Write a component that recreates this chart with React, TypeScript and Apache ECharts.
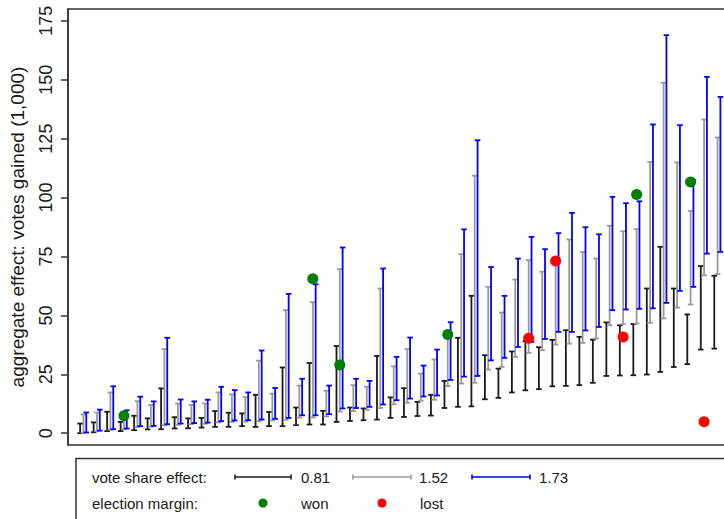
import React, { useEffect, useRef } from "react";
import * as echarts from "echarts";

// Districts ranked by the size of the lower-elasticity effect (1 = smallest).
const groups = Array.from({ length: 48 }, (_, k) => k + 1);

// Interval estimates of votes gained (thousands) for each vote-share elasticity.
const blackLow = [0.0, 0.4, 0.9, 0.9, 1.3, 1.6, 1.7, 2.0, 2.1, 2.4, 2.7, 2.7, 3.0, 2.7, 3.0, 3.0, 3.4, 3.7, 3.7, 4.8, 5.2, 5.5, 5.8, 6.5, 6.9, 7.3, 7.5, 10.7, 11.2, 11.4, 14.4, 15.0, 17.3, 18.2, 18.7, 19.9, 20.1, 20.4, 21.4, 24.3, 24.5, 24.6, 24.9, 26.0, 28.1, 29.3, 35.5, 35.9];
const blackHigh = [4.1, 4.6, 9.1, 4.8, 7.4, 6.3, 19.0, 6.8, 6.3, 6.5, 9.4, 8.7, 8.4, 16.3, 9.0, 27.9, 10.9, 29.8, 9.5, 37.0, 10.9, 10.5, 32.8, 15.2, 19.1, 13.3, 16.3, 22.2, 40.5, 58.3, 33.1, 27.4, 34.7, 39.0, 36.5, 39.6, 43.7, 40.9, 39.7, 47.0, 45.8, 46.3, 61.4, 79.1, 61.4, 50.4, 70.9, 66.8];
const grayLow = [0.2, 0.9, 1.5, 1.7, 2.6, 2.8, 3.3, 3.6, 3.8, 4.0, 4.6, 4.8, 4.9, 5.1, 5.4, 5.7, 6.6, 6.7, 7.1, 9.2, 9.4, 9.9, 10.7, 12.3, 12.9, 13.8, 14.2, 20.0, 21.1, 21.4, 27.0, 28.1, 32.4, 34.1, 35.2, 37.6, 38.0, 38.3, 40.2, 45.8, 46.3, 46.5, 46.8, 48.7, 53.3, 54.6, 67.0, 67.5];
const grayHigh = [8.0, 8.8, 17.3, 8.6, 13.6, 12.0, 35.7, 12.6, 12.0, 12.6, 17.3, 16.5, 15.3, 30.8, 16.8, 52.2, 20.2, 55.6, 18.0, 69.6, 20.4, 19.7, 61.4, 28.4, 35.7, 25.3, 31.3, 41.8, 76.0, 109.3, 62.1, 51.2, 65.2, 73.4, 68.5, 74.5, 82.2, 76.9, 74.1, 88.0, 85.7, 86.6, 115.1, 148.7, 114.9, 94.3, 133.1, 125.5];
const blueLow = [0.3, 1.1, 1.7, 2.0, 3.0, 3.1, 3.8, 4.1, 4.3, 4.5, 5.1, 5.4, 5.5, 5.8, 6.1, 6.5, 7.6, 7.6, 8.1, 10.5, 10.7, 11.2, 12.2, 14.0, 14.7, 15.6, 16.0, 22.6, 24.0, 24.3, 30.9, 32.0, 36.6, 38.8, 40.0, 43.0, 43.0, 43.6, 45.1, 52.2, 52.5, 52.8, 53.0, 55.3, 60.4, 62.1, 76.2, 76.9];
const blueHigh = [8.8, 10.0, 19.9, 9.7, 15.5, 13.5, 40.5, 14.3, 13.5, 14.2, 19.7, 18.3, 17.3, 35.1, 19.2, 59.1, 23.1, 63.2, 20.2, 78.8, 23.1, 22.2, 69.9, 32.4, 40.6, 28.7, 35.5, 47.1, 86.5, 124.3, 70.5, 58.3, 74.1, 83.3, 78.1, 84.9, 93.5, 87.4, 84.4, 100.3, 97.6, 98.4, 131.0, 168.9, 130.7, 107.4, 151.2, 142.7];

// Actual election margins (thousands of votes): [district rank, margin].
const wonMargins = [[4, 7.4], [18, 65.5], [20, 28.9], [28, 41.9], [42, 101.3], [46, 106.6]];
const lostMargins = [[34, 40.3], [36, 73.1], [41, 40.8], [47, 4.9]];

const elasticityLabels = ["0.81", "1.52", "1.73"];
const yTicks = [0, 25, 50, 75, 100, 125, 150, 175];

const BLACK = "#1a1a1a";
const GRAY = "#9a9a9a";
const BLUE = "#0000ff";
const GREEN = "#008000";
const RED = "#ff0000";
const FONT = "'Liberation Sans', Arial, sans-serif";

// horizontal offsets of the three bars inside one district slot
const OFFSET_BLACK = 0;
const OFFSET_GRAY = 0.245;
const OFFSET_BLUE = 0.455;

function barSeries(name: string, color: string, offset: number, lows: number[], highs: number[]) {
  return {
    type: "custom",
    name,
    data: groups.map((g, k) => [g + offset, lows[k], highs[k]]),
    encode: { x: 0, y: [1, 2] },
    renderItem: (_params: any, api: any) => {
      const x = api.value(0);
      const lo = api.coord([x, api.value(1)]);
      const hi = api.coord([x, api.value(2)]);
      const w = 2.8;
      const style = { stroke: color, lineWidth: 1.8 };
      return {
        type: "group",
        children: [
          { type: "line", shape: { x1: lo[0], y1: lo[1], x2: hi[0], y2: hi[1] }, style },
          { type: "line", shape: { x1: hi[0] - w, y1: hi[1], x2: hi[0] + w, y2: hi[1] }, style },
          { type: "line", shape: { x1: lo[0] - w, y1: lo[1], x2: lo[0] + w, y2: lo[1] }, style },
        ],
      };
    },
    z: 2,
  };
}

function legendBar(x1: number, x2: number, y: number, color: string) {
  const style = { stroke: color, lineWidth: 1.6 };
  return [
    { type: "line", shape: { x1, y1: y, x2, y2: y }, style },
    { type: "line", shape: { x1, y1: y - 2.5, x2: x1, y2: y + 2.5 }, style },
    { type: "line", shape: { x1: x2, y1: y - 2.5, x2, y2: y + 2.5 }, style },
  ];
}

function legendText(text: string, x: number, y: number) {
  return {
    type: "text",
    x,
    y,
    style: { text, fill: BLACK, font: `15px ${FONT}`, textVerticalAlign: "middle", textAlign: "left" },
  };
}

export default function App() {
  const ref = useRef<HTMLDivElement>(null);

  useEffect(() => {
    if (!ref.current) return;
    const chart = echarts.init(ref.current, undefined, { renderer: "svg" });
    const row1 = 477;
    const row2 = 503;
    chart.setOption({
      animation: false,
      backgroundColor: "#ffffff",
      grid: {
        left: 62,
        top: 9,
        width: 686,
        height: 436,
        show: true,
        borderColor: "#333333",
        borderWidth: 1.5,
        backgroundColor: "transparent",
      },
      xAxis: {
        type: "value",
        min: 0.1,
        max: 50.5,
        axisLine: { show: false },
        axisTick: { show: false },
        axisLabel: { show: false },
        splitLine: { show: false },
      },
      yAxis: {
        type: "value",
        min: -5,
        max: 180,
        name: "aggregate effect: votes gained (1,000)",
        nameLocation: "middle",
        nameRotate: 90,
        nameGap: 41,
        nameTextStyle: { fontFamily: FONT, fontSize: 19, color: BLACK },
        axisLine: { show: true, lineStyle: { color: "#333333", width: 1.5 } },
        axisTick: { show: true, length: 7, customValues: yTicks, lineStyle: { color: "#333333", width: 1.5 } },
        axisLabel: {
          customValues: yTicks,
          rotate: 90,
          margin: 13,
          fontFamily: FONT,
          fontSize: 18,
          color: BLACK,
        },
        splitLine: { show: false },
      },
      series: [
        barSeries(elasticityLabels[0], BLACK, OFFSET_BLACK, blackLow, blackHigh),
        barSeries(elasticityLabels[1], GRAY, OFFSET_GRAY, grayLow, grayHigh),
        barSeries(elasticityLabels[2], BLUE, OFFSET_BLUE, blueLow, blueHigh),
        {
          type: "scatter",
          name: "won",
          data: wonMargins.map(([g, v]) => [g + OFFSET_GRAY, v]),
          symbol: "circle",
          symbolSize: 11,
          itemStyle: { color: GREEN, opacity: 1 },
          z: 5,
        },
        {
          type: "scatter",
          name: "lost",
          data: lostMargins.map(([g, v]) => [g + OFFSET_GRAY, v]),
          symbol: "circle",
          symbolSize: 11,
          itemStyle: { color: RED, opacity: 1 },
          z: 5,
        },
      ],
      graphic: [
        {
          type: "rect",
          shape: { x: 76, y: 458.5, width: 700, height: 100 },
          style: { fill: "#ffffff", stroke: "#333333", lineWidth: 1.5 },
        },
        legendText("vote share effect:", 92, row1),
        legendText("election margin:", 92, row2),
        ...legendBar(235, 291, row1, BLACK),
        legendText(elasticityLabels[0], 301, row1),
        ...legendBar(353, 411, row1, GRAY),
        legendText(elasticityLabels[1], 419, row1),
        ...legendBar(472, 530, row1, BLUE),
        legendText(elasticityLabels[2], 539, row1),
        { type: "circle", shape: { cx: 263, cy: row2, r: 4.5 }, style: { fill: GREEN } },
        legendText("won", 301, row2),
        { type: "circle", shape: { cx: 382, cy: row2, r: 4.5 }, style: { fill: RED } },
        legendText("lost", 420, row2),
      ],
    });
    return () => chart.dispose();
  }, []);

  // The drawing surface is wider than the visible frame; the plot and legend run off the right edge.
  return (
    <div
      style={{ position: "fixed", left: 0, top: 0, width: 724, height: 519, overflow: "hidden", background: "#fff" }}
    >
      <div ref={ref} style={{ width: 800, height: 519 }} />
    </div>
  );
}
